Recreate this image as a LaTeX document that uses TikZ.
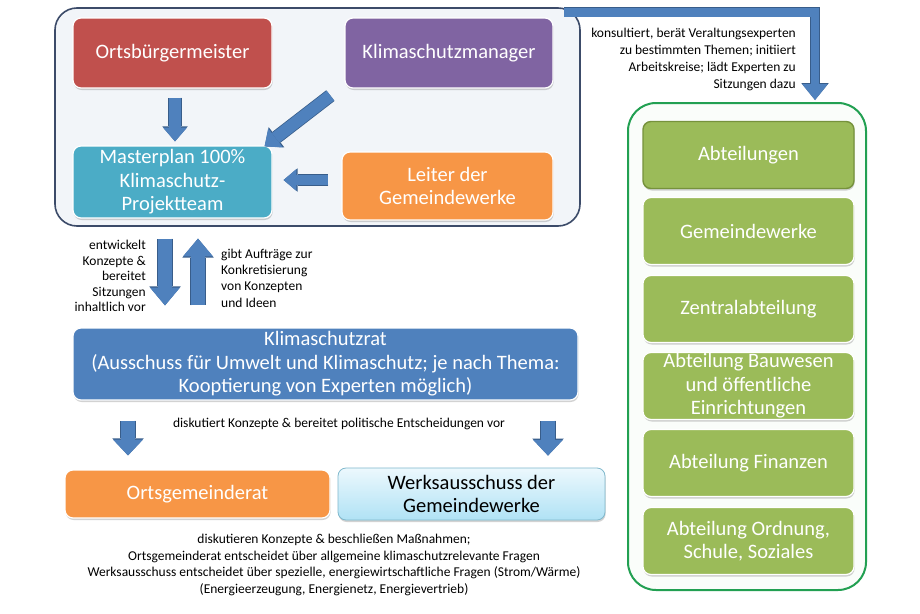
\documentclass[tikz,border=0pt]{standalone}
\usepackage{fontspec}
\setmainfont{Carlito}
\usetikzlibrary{arrows.meta,shadows,calc}
\definecolor{cred}{HTML}{C0504D}
\definecolor{cpurple}{HTML}{8064A2}
\definecolor{cteal}{HTML}{4BACC6}
\definecolor{corange}{HTML}{F79646}
\definecolor{cblue}{HTML}{4F81BD}
\definecolor{cgreen}{HTML}{9BBB59}
\definecolor{cgreendark}{HTML}{76923C}
\definecolor{arrowblue}{HTML}{4F81BD}
\definecolor{arrowdark}{HTML}{385D8A}
\definecolor{upfill}{HTML}{F2F5F9}
\definecolor{upline}{HTML}{3C4B69}
\definecolor{grline}{HTML}{22A052}
\definecolor{grfill}{HTML}{FAFDFA}
\definecolor{wtop}{HTML}{ECF8FD}
\definecolor{wbot}{HTML}{B0E2F5}
\definecolor{wline}{HTML}{7FB8CC}
\tikzset{
  box/.style={rounded corners=8pt, draw=white, line width=1.2pt, text=white,
    font=\fontsize{20.5}{23.5}\selectfont, align=center, inner sep=1pt,
    drop shadow={shadow xshift=0.6pt, shadow yshift=-2pt, opacity=0.25, fill=black!70}},
  gbox/.style={box, fill=cgreen, minimum width=211pt, minimum height=67pt},
  small/.style={font=\fontsize{13.5}{16}\selectfont, inner sep=0pt},
  ablk/.style n args={4}{line width=#1, draw=#4,
    -{Triangle[width=#2,length=#3,line width=0pt]}},
}
\begin{document}
\begin{tikzpicture}[x=1pt,y=-1pt]
\useasboundingbox (0,0) rectangle (920,613);
\fill[white] (0,0) rectangle (920,613);

% containers
\node[draw=upline, fill=upfill, line width=1.6pt, rounded corners=22pt,
  minimum width=525pt, minimum height=218pt, inner sep=0pt] (upper) at (317.5,117) {};
\node[draw=grline, fill=grfill, line width=2pt, rounded corners=28pt,
  minimum width=238pt, minimum height=487pt, inner sep=0pt] (green) at (747,346.5) {};

% upper boxes
\node[box, fill=cred, minimum width=199pt, minimum height=70pt] (ob) at (172.5,53) {Ortsbürgermeister};
\node[box, fill=cpurple, minimum width=208pt, minimum height=70pt] (km) at (449,53) {Klimaschutzmanager};
\node[box, fill=cteal, minimum width=199pt, minimum height=72pt] (mp) at (172.5,182) {Masterplan 100\%\\Klimaschutz-\\Projektteam};
\node[box, fill=corange, minimum width=211pt, minimum height=68pt] (lg) at (447.5,186) {Leiter der\\Gemeindewerke};

% Klimaschutzrat
\node[box, fill=cblue, minimum width=505pt, minimum height=72pt] (kr) at (325.5,364)
  {Klimaschutzrat\\(Ausschuss für Umwelt und Klimaschutz; je nach Thema:\\Kooptierung von Experten möglich)};

% bottom boxes
\node[box, fill=corange, minimum width=265pt, minimum height=48pt] (og) at (197.5,494) {Ortsgemeinderat};
\node[box, draw=wline, line width=0.8pt, top color=wtop, bottom color=wbot, text=black,
  minimum width=267pt, minimum height=52pt] (wa) at (471.5,494) {Werksausschuss der\\Gemeindewerke};

% green boxes
\node[gbox, draw=cgreendark, line width=1.4pt] (ab) at (748.5,155) {Abteilungen};
\node[gbox] (gw) at (748.5,231) {Gemeindewerke};
\node[gbox] (za) at (748.5,309) {Zentralabteilung};
\node[gbox] (bw) at (748.5,386) {Abteilung Bauwesen\\und öffentliche\\Einrichtungen};
\node[gbox] (fi) at (748.5,463) {Abteilung Finanzen};
\node[gbox] (ord) at (748.5,541) {Abteilung Ordnung,\\Schule, Soziales};

% arrows in upper container
\foreach \s/\c in {{13.5pt}{25.5pt}{15pt}{arrowdark}/1, {12pt}{24pt}{13.8pt}{arrowblue}/2}{
  \draw[ablk/.expanded=\s] ([shift={(2.5pt,-9pt)}]ob.south) -- ([shift={(2.5pt,4pt)}]mp.north);
  \draw[ablk/.expanded=\s] ([shift={(-14pt,-7pt)}]km.south west) -- ([shift={(-8pt,-1pt)}]mp.north east);
}
\foreach \s/\c in {{11.5pt}{23.5pt}{14pt}{arrowdark}/1, {10pt}{22pt}{12.8pt}{arrowblue}/2}{
  \draw[ablk/.expanded=\s] ([shift={(-13pt,6pt)}]lg.west) -- ([shift={(11pt,2pt)}]mp.east);
}

% arrows between Masterplan and Klimaschutzrat
\path ([xshift=-7.5pt]mp.south) coordinate (mpd) ([xshift=25.5pt]mp.south) coordinate (mpu);
\foreach \s/\c in {{15.5pt}{31.5pt}{19pt}{arrowdark}/1, {14pt}{30pt}{17.8pt}{arrowblue}/2}{
  \draw[ablk/.expanded=\s] ([yshift=-20pt]mpd) -- ([yshift=22pt]kr.north -| mpd);
  \draw[ablk/.expanded=\s] ([yshift=22pt]kr.north -| mpu) -- ([yshift=-20pt]mpu);
}

% arrows from Klimaschutzrat
\path ([xshift=-197.5pt,yshift=-20pt]kr.south) coordinate (k1) ([xshift=222.5pt,yshift=-20pt]kr.south) coordinate (k2);
\foreach \s/\c in {{15.5pt}{31.5pt}{17pt}{arrowdark}/1, {14pt}{30pt}{15.8pt}{arrowblue}/2}{
  \draw[ablk/.expanded=\s] (k1) -- ([yshift=14pt]og.north -| k1);
  \draw[ablk/.expanded=\s] (k2) -- ([yshift=12pt]wa.north -| k2);
}

% elbow arrow
\path ([shift={(-17pt,-5pt)}]upper.north east) coordinate (es) ([shift={(68pt,2pt)}]green.north) coordinate (ee);
\draw[ablk={10.5pt}{27.5pt}{17pt}{arrowdark}, line join=miter] (es) -| (ee);
\draw[ablk={8.8pt}{25.5pt}{15.8pt}{arrowblue}, line join=miter] (es) -| (ee);

% texts
\node[small, align=right, anchor=north east, font=\fontsize{13.5}{17}\selectfont] (t1) at (796,28)
  {konsultiert, berät Veraltungsexperten\\zu bestimmten Themen; initiiert\\Arbeitskreise; lädt Experten zu\\Sitzungen dazu};
\node[small, align=right, anchor=east, font=\fontsize{13.5}{15.5}\selectfont] (t2) at (146,276)
  {entwickelt\\Konzepte \&\\bereitet\\Sitzungen\\inhaltlich vor};
\node[small, align=left, anchor=west, font=\fontsize{13.5}{16.3}\selectfont] (t3) at (221,278)
  {gibt Aufträge zur\\Konkretisierung\\von Konzepten\\und Ideen};
\node[small] (t4) at (339,424) {diskutiert Konzepte \& bereitet politische Entscheidungen vor};
\node[small, align=center, font=\fontsize{13.5}{16.5}\selectfont] (t5) at (334,565)
  {diskutieren Konzepte \& beschließen Maßnahmen;\\Ortsgemeinderat entscheidet über allgemeine klimaschutzrelevante Fragen\\Werksausschuss entscheidet über spezielle, energiewirtschaftliche Fragen (Strom/Wärme)\\(Energieerzeugung, Energienetz, Energievertrieb)};
\end{tikzpicture}
\end{document}
